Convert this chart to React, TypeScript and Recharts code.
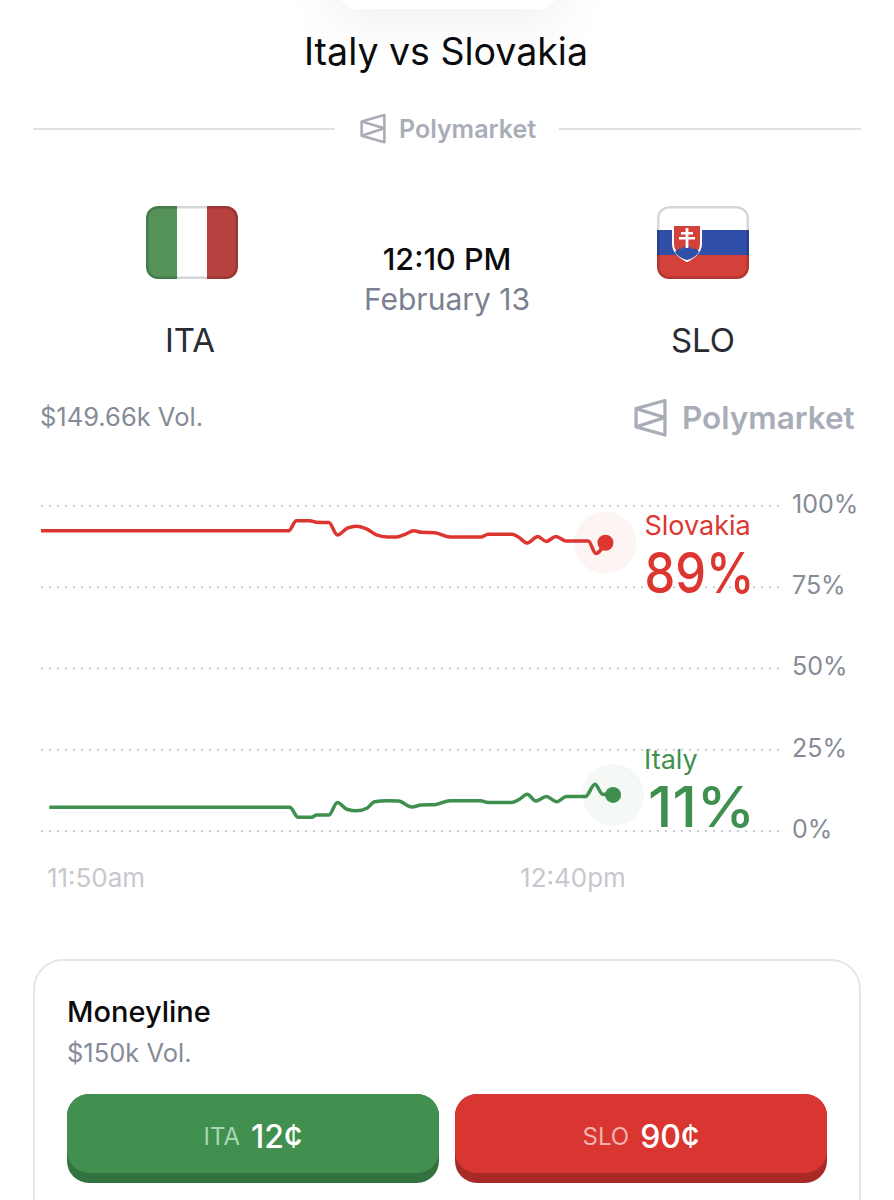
import { LineChart, Line, XAxis, YAxis, CartesianGrid } from 'recharts'

// minutes after 11:50am
const sloMinutes = [-5.77, 20.2, 21, 22.4, 23.1, 24.4, 25.3, 26.4, 27.3, 28.4, 29.4, 30.5, 31.5, 32.4, 33.3, 34.1, 35.5, 37.1, 40.4, 41.1, 43.6, 44.3, 45.2, 46.3, 47.2, 48.2, 49.3, 51.6, 52.4, 53.4]
const sloValues = [92.4, 92.4, 95.5, 95.5, 95, 94.9, 91.1, 93.3, 93.8, 92.9, 91.1, 90.5, 90.5, 91.3, 92.4, 91.9, 91.8, 90.5, 90.5, 91.3, 91.3, 90.4, 88.6, 90.6, 89.1, 90.6, 89.2, 89.2, 85.4, 88.7]
const itaMinutes = [-4.9, 20.3, 21.2, 22.6, 23.1, 24.4, 25.3, 26.3, 27.3, 28.4, 29.2, 30.5, 31.7, 33.1, 34.1, 35.5, 37.1, 40.3, 41.1, 43.6, 44.4, 45.2, 46.1, 47.2, 48.3, 49.3, 51.3, 52.3, 53.1, 54.2]
const itaValues = [7.3, 7.3, 4.2, 4.2, 4.9, 4.9, 8.8, 6.7, 6.2, 7, 9, 9.3, 9.2, 7.4, 8, 8.1, 9.3, 9.3, 8.8, 8.8, 9.75, 11.3, 9.2, 10.6, 9, 10.6, 10.6, 14.4, 11.3, 11.1]

const timeTicks = [0, 50]
const timeLabels = ['11:50am', '12:40pm']
const pctTicks = [0, 25, 50, 75, 100]

const sloData = sloMinutes.map((t, i) => ({ t, v: sloValues[i] }))
const itaData = itaMinutes.map((t, i) => ({ t, v: itaValues[i] }))

const GREEN = '#3f8f4f'
const RED = '#dd3631'
const FONT = 'Inter, sans-serif'

function endDot(last: number, color: string, name: string, pct: string, nameX: number, nameY: number, pctX: number, pctY: number, pctW: number) {
  return (props: any) => {
    const { cx, cy, index } = props
    if (index !== last) return <g key={index} />
    return (
      <g key={index}>
        <circle cx={cx} cy={cy} r={31} fill={color} fillOpacity={0.05} />
        <circle cx={cx} cy={cy} r={8} fill={color} />
        <text x={cx + nameX} y={cy + nameY} fill={color} fontSize={27} fontFamily={FONT}>{name}</text>
        <text x={cx + pctX} y={cy + pctY} fill={color} fontSize={56} fontWeight={500} fontFamily={FONT} textLength={pctW} lengthAdjust="spacingAndGlyphs">{pct}</text>
      </g>
    )
  }
}

function Logo({ x, y, size }: { x: number; y: number; size: number }) {
  return (
    <svg style={{ position: 'absolute', left: x, top: y }} width={size} height={size * 1.18} viewBox="0 0 26 31" fill="none" stroke="#a9adb8" strokeWidth={2.6} strokeLinejoin="round">
      <path d="M24.5 2 L1.5 8.5 L1.5 23 L24.5 29.5 Z" />
      <path d="M1.5 8.5 L24.5 15.5 L1.5 23" />
    </svg>
  )
}

function Txt({ x, y, size, color, weight, center, children }: any) {
  return (
    <div style={{ position: 'absolute', left: center ? x - 300 : x, width: center ? 600 : undefined, top: y - size, height: size * 2, lineHeight: `${size * 2}px`, fontSize: size, color, fontWeight: weight ?? 400, textAlign: center ? 'center' : 'left', whiteSpace: 'nowrap' }}>
      {children}
    </div>
  )
}

function Flag({ x, children }: any) {
  return (
    <div style={{ position: 'absolute', left: x, top: 206, width: 92, height: 73, borderRadius: 12, overflow: 'hidden' }}>
      {children}
      <div style={{ position: 'absolute', inset: 0, borderRadius: 12, boxShadow: 'inset 0 0 0 2.5px rgba(0,0,0,0.16)' }} />
    </div>
  )
}

function Bet({ x, bg, edge, soft, code, price }: any) {
  return (
    <div style={{ position: 'absolute', left: x, top: 1094, width: 372, height: 89, borderRadius: 22, background: edge }}>
      <div style={{ height: 79, borderRadius: 22, background: bg, display: 'flex', alignItems: 'center', justifyContent: 'center', gap: 11, paddingTop: 6, boxSizing: 'border-box' }}>
        <span style={{ fontSize: 24, color: soft }}>{code}</span>
        <span style={{ fontSize: 32, color: '#fff', fontWeight: 500 }}>{price}</span>
      </div>
    </div>
  )
}

export default function App() {
  return (
    <div style={{ position: 'absolute', left: 0, top: 0, width: 894, height: 1200, background: '#fff', overflow: 'hidden', fontFamily: FONT }}>
      <div style={{ position: 'absolute', left: 340, top: -20, width: 216, height: 29, borderRadius: 24, background: '#fff', boxShadow: '0 0 50px 14px rgba(0,0,0,0.06)' }} />
      <Txt x={446} y={51} size={37.5} color="#0b0b0d" center>Italy vs Slovakia</Txt>

      <div style={{ position: 'absolute', left: 33, top: 128, width: 302, height: 2, background: '#dfe1e5' }} />
      <div style={{ position: 'absolute', left: 559, top: 128, width: 302, height: 2, background: '#dfe1e5' }} />
      <Logo x={360} y={113} size={26} />
      <Txt x={399} y={129} size={25} color="#a9adb8" weight={600}>Polymarket</Txt>

      <Flag x={146}>
        <div style={{ display: 'flex', height: '100%' }}>
          <div style={{ flex: 1, background: '#55925a' }} />
          <div style={{ flex: 1, background: '#fff' }} />
          <div style={{ flex: 1, background: '#b5423f' }} />
        </div>
      </Flag>
      <Flag x={657}>
        <div style={{ height: '33.4%', background: '#fff' }} />
        <div style={{ height: '33.3%', background: '#2f4fa8' }} />
        <div style={{ height: '33.3%', background: '#d2423b' }} />
        <svg style={{ position: 'absolute', left: 15, top: 18, overflow: 'visible' }} width={30} height={38} viewBox="0 0 30 38">
          <path d="M1 1 H29 V20 C29 29 21 34 15 37 C9 34 1 29 1 20 Z" fill="#d2423b" stroke="#fff" strokeWidth={2} />
          <path d="M3 28 C6 24 9 24 10 25 C12 21 18 21 20 25 C22 24 25 24 27 28 C24 33 19 35 15 36 C11 35 6 33 3 28 Z" fill="#2f4fa8" />
          <path d="M13.6 4 H16.4 V8 H21 V10.6 H16.4 V13 H23 V15.6 H16.4 V24 H13.6 V15.6 H7 V13 H13.6 V10.6 H9 V8 H13.6 Z" fill="#fff" />
        </svg>
      </Flag>

      <Txt x={447} y={258} size={30.5} color="#0b0b0d" weight={500} center>12:10 PM</Txt>
      <Txt x={447} y={299} size={30} color="#7b8190" center>February 13</Txt>
      <Txt x={190} y={340} size={33} color="#2a2c33" center>ITA</Txt>
      <Txt x={703} y={340} size={33} color="#2a2c33" center>SLO</Txt>

      <Txt x={40} y={416} size={25.5} color="#868b97">$149.66k Vol.</Txt>
      <Logo x={634} y={398} size={33} />
      <Txt x={682} y={417} size={31.5} color="#a9adb8" weight={600}>Polymarket</Txt>

      <div style={{ position: 'absolute', left: 0, top: 450 }}>
        <LineChart width={894} height={470} margin={{ top: 56, right: 0, bottom: 0, left: 41 }}>
          <CartesianGrid vertical={false} stroke="#c9ccd2" strokeWidth={2} strokeDasharray="2 6" />
          <XAxis
            dataKey="t"
            type="number"
            domain={[-5.77, 71.7]}
            ticks={timeTicks}
            interval={0}
            height={89}
            axisLine={false}
            tickLine={false}
            tickMargin={32}
            tick={{ fill: '#c6c8ce', fontSize: 26, fontFamily: FONT }}
            tickFormatter={(v: number) => timeLabels[timeTicks.indexOf(v)]}
          />
          <YAxis
            orientation="right"
            domain={[0, 100]}
            ticks={pctTicks}
            interval={0}
            width={114}
            axisLine={false}
            tickLine={false}
            tickMargin={6}
            tick={{ fill: '#868b97', fontSize: 25, fontFamily: FONT, dy: -2 }}
            tickFormatter={(v: number) => `${v}%`}
          />
          <Line data={sloData} dataKey="v" type="monotone" stroke={RED} strokeWidth={3.5} isAnimationActive={false} dot={endDot(sloData.length - 1, RED, 'Slovakia', '89%', 39, -8, 39, 50, 110)} activeDot={false} />
          <Line data={itaData} dataKey="v" type="monotone" stroke={GREEN} strokeWidth={3.5} isAnimationActive={false} dot={endDot(itaData.length - 1, GREEN, 'Italy', '11%', 31, -26, 35, 32, 107)} activeDot={false} />
        </LineChart>
      </div>

      <div style={{ position: 'absolute', left: 33, top: 959, width: 828, height: 300, borderRadius: 30, border: '2px solid #e4e6ea', boxSizing: 'border-box' }} />
      <Txt x={67} y={1012} size={29} color="#0b0b0d" weight={500}>Moneyline</Txt>
      <Txt x={67} y={1052} size={25.5} color="#868b97">$150k Vol.</Txt>
      <Bet x={67} bg="#41904f" edge="#33713f" soft="#a9d6b5" code="ITA" price="12¢" />
      <Bet x={455} bg="#da3631" edge="#a82a27" soft="#f3b4b1" code="SLO" price="90¢" />
    </div>
  )
}
